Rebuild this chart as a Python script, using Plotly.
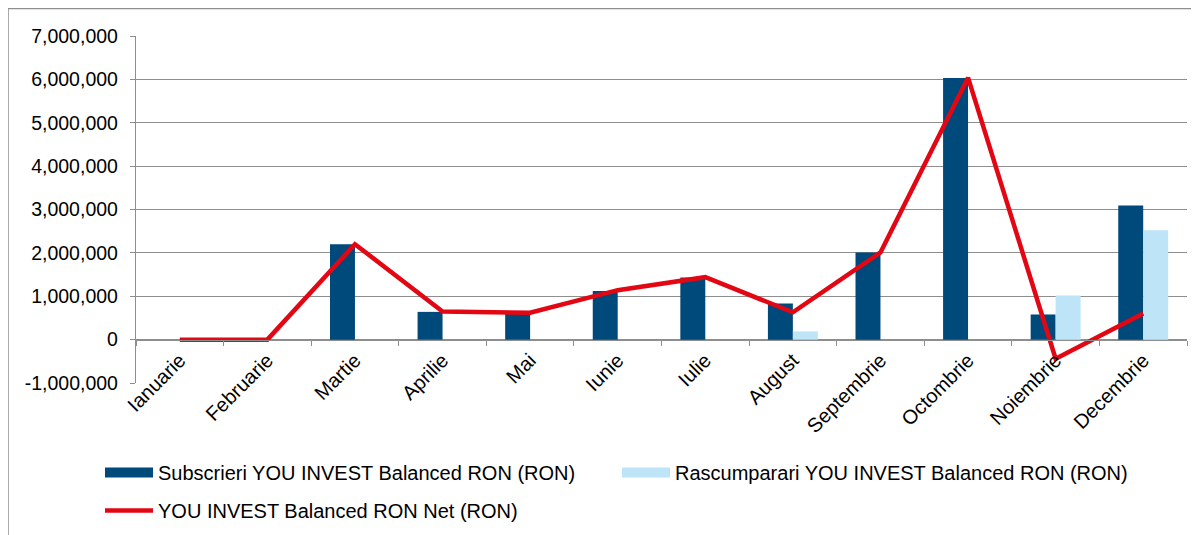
import plotly.graph_objects as go

months = ["Ianuarie", "Februarie", "Martie", "Aprilie", "Mai", "Iunie", "Iulie",
          "August", "Septembrie", "Octombrie", "Noiembrie", "Decembrie"]
subscrieri = [0, 0, 2200000, 640000, 610000, 1120000, 1430000, 830000, 2010000, 6030000, 580000, 3090000]
rascumparari = [0, 0, 0, 0, 0, 0, 0, 190000, 0, 0, 1020000, 2520000]
net = [0, 0, 2200000, 650000, 620000, 1140000, 1440000, 630000, 2010000, 6040000, -440000, 600000]

y_tickvals = [-1000000, 0, 1000000, 2000000, 3000000, 4000000, 5000000, 6000000, 7000000]
y_ticktext = ["-1,000,000", "0", "1,000,000", "2,000,000", "3,000,000", "4,000,000",
              "5,000,000", "6,000,000", "7,000,000"]

name_sub = "Subscrieri YOU INVEST Balanced RON (RON)"
name_ras = "Rascumparari YOU INVEST Balanced RON (RON)"
name_net = "YOU INVEST Balanced RON Net (RON)"

C_SUB = "#00497B"
C_RAS = "#BEE4F8"
C_NET = "#E30613"
GRID = "#8E8E8E"
FONT = "Liberation Sans, Arial, sans-serif"

OFF = 8  # page body margin
W, H = 1199 - OFF, 535 - OFF
L, R, T, B = 136 - OFF, 12, 36 - OFF, 152
PW, PH = W - L - R, H - T - B


def px_x(px):
    return (px - OFF - L) / PW


def px_y(py):
    return (H - B - (py - OFF)) / PH


fig = go.Figure()
fig.add_trace(go.Bar(x=months, y=subscrieri, name=name_sub, marker=dict(color=C_SUB, line=dict(width=0)),
                     showlegend=False))
fig.add_trace(go.Bar(x=months, y=rascumparari, name=name_ras, marker=dict(color=C_RAS, line=dict(width=0)),
                     showlegend=False))
fig.add_trace(go.Scatter(x=months, y=net, name=name_net, mode="lines",
                         line=dict(color=C_NET, width=4.5), showlegend=False))

# legend-only entries (wide swatches)
fig.add_trace(go.Scatter(x=[None], y=[None], mode="lines", name=name_sub,
                         line=dict(color=C_SUB, width=14), legend="legend"))
fig.add_trace(go.Scatter(x=[None], y=[None], mode="lines", name=name_ras,
                         line=dict(color=C_RAS, width=14), legend="legend"))
fig.add_trace(go.Scatter(x=[None], y=[None], mode="lines", name=name_net,
                         line=dict(color=C_NET, width=4.5), legend="legend2"))

leg_common = dict(orientation="h", xanchor="left", yanchor="top",
                  entrywidth=454, entrywidthmode="pixels", itemwidth=48,
                  font=dict(family=FONT, size=20, color="#000000"),
                  bgcolor="rgba(0,0,0,0)")

fig.update_layout(
    width=W, height=H,
    margin=dict(l=L, r=R, t=T, b=B, autoexpand=False),
    paper_bgcolor="white", plot_bgcolor="white",
    font=dict(family=FONT, size=19.5, color="#000000"),
    barmode="group", bargap=0.43, bargroupgap=0,
    showlegend=True,
    legend=dict(x=px_x(100), y=px_y(453), **leg_common),
    legend2=dict(x=px_x(100), y=px_y(491), **leg_common),
    xaxis=dict(type="category", anchor="free", position=1 / 8,
               showline=True, linecolor=GRID, linewidth=1.3,
               ticks="outside", ticklen=5, tickcolor=GRID, tickwidth=1.3,
               tickson="boundaries", tickangle=-45, showgrid=False,
               tickfont=dict(family=FONT, size=20, color="#000000")),
    yaxis=dict(range=[-1000000, 7000000], tickvals=y_tickvals, ticktext=y_ticktext,
               showline=True, linecolor=GRID, linewidth=1.3,
               ticks="outside", ticklen=5, tickcolor=GRID, tickwidth=1.3,
               showgrid=True, gridcolor=GRID, gridwidth=1.3, zeroline=False,
               ticklabelstandoff=8,
               tickfont=dict(family=FONT, size=19.5, color="#000000")),
    shapes=[dict(type="rect", xref="paper", yref="paper",
                 x0=px_x(OFF), x1=px_x(1199 + 20),
                 y0=px_y(535 + 20), y1=px_y(OFF + 0.5),
                 line=dict(color=GRID, width=1.5), fillcolor="rgba(0,0,0,0)", layer="below")],
)

fig.write_html("out.html")
